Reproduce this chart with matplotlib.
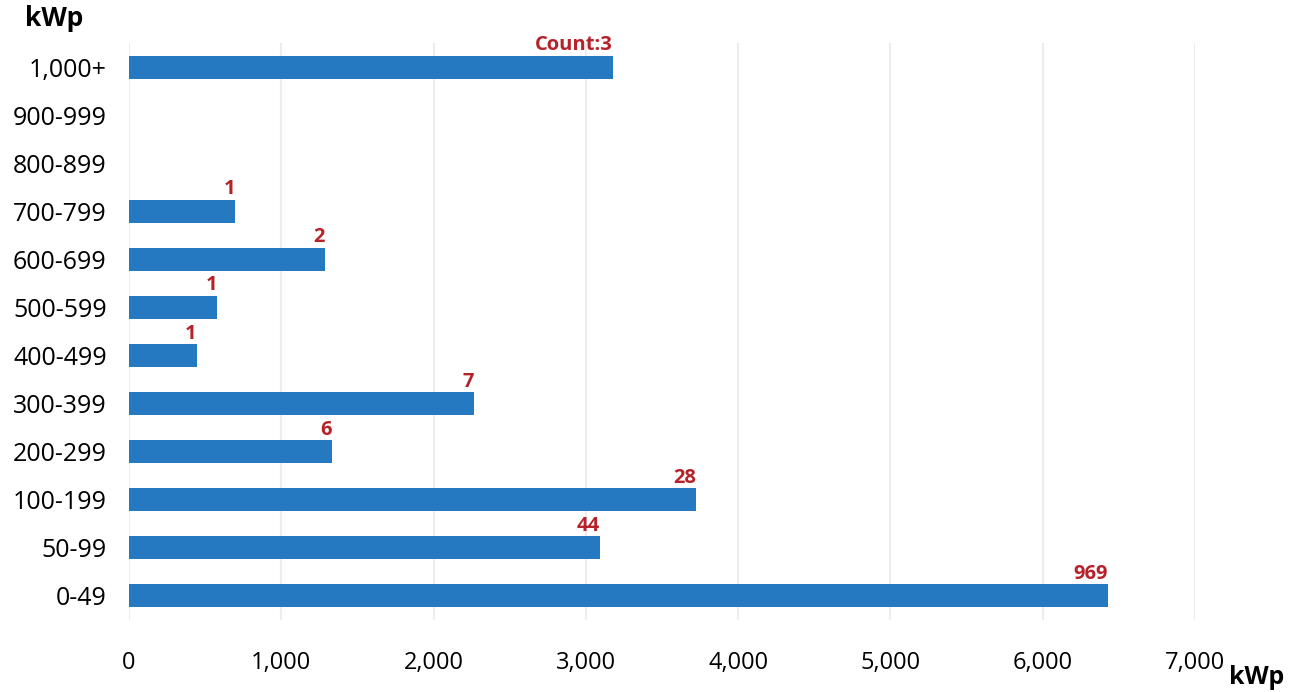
import matplotlib.pyplot as plt

plt.rcParams['font.family'] = ['Open Sans', 'DejaVu Sans']

categories = ["0-49", "50-99", "100-199", "200-299", "300-399", "400-499",
              "500-599", "600-699", "700-799", "800-899", "900-999", "1,000+"]
capacity_kwp = [6428, 3093, 3723, 1333, 2265, 444, 580, 1287, 696, 0, 0, 3178]
counts = ["969", "44", "28", "6", "7", "1", "1", "2", "1", "", "", "Count:3"]
xticks = [0, 1000, 2000, 3000, 4000, 5000, 6000, 7000]

bar_color = "#2479C0"
label_color = "#B5222A"

fig = plt.figure(figsize=(12.91, 6.92), dpi=100)
ax = fig.add_axes([129 / 1291, 1 - 620 / 692, (1195 - 129) / 1291, (620 - 43) / 692])

ypos = list(range(len(categories)))
ax.barh(ypos, capacity_kwp, height=0.48, color=bar_color, zorder=3)

for y, v, c in zip(ypos, capacity_kwp, counts):
    if c:
        ax.text(v, y + 0.25, c, ha="right", va="bottom", color=label_color,
                fontsize=14.5, fontweight="bold", zorder=4)

ax.set_xlim(0, 7000)
ax.set_ylim(-0.5, len(categories) - 0.5)
ax.set_xticks(xticks)
ax.set_xticklabels([f"{t:,}" for t in xticks], fontsize=17)
ax.set_yticks(ypos)
ax.set_yticklabels(categories, fontsize=18)
ax.tick_params(axis="both", length=0)
ax.tick_params(axis="x", pad=22)
ax.tick_params(axis="y", pad=16)

ax.grid(axis="x", color="#EDEDED", linewidth=1.6, zorder=0)
for s in ax.spines.values():
    s.set_visible(False)

fig.text(54 / 1291, 1 - 18 / 692, "kWp", ha="center", va="center",
         fontsize=19, fontweight="bold")
fig.text(1257 / 1291, 1 - 678 / 692, "kWp", ha="center", va="center",
         fontsize=18, fontweight="bold")

fig.savefig("out.png", dpi=100)
